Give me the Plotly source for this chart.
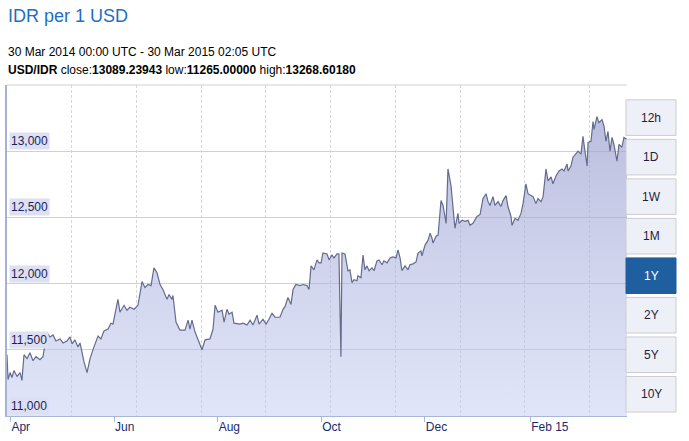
import plotly.graph_objects as go
import pandas as pd

# ---- data ----
start_date = "2014-03-30"
day_offsets = [0, 0.6, 1.8, 2.9, 4.1, 5.9, 7.7, 8.8, 10.0, 11.8, 13.5, 15.3, 17.1, 19.4, 21.2, 23.5, 25.3, 27.1,
               28.8, 31.2, 33.0, 35.3, 37.1, 38.3, 40.0, 41.8, 43.0, 45.3, 47.1, 48.9, 51.2, 53.6, 55.3, 57.1,
               59.5, 61.2, 62.4, 64.2, 65.3, 66.5, 67.7, 68.9, 70.6, 72.4, 74.8, 77.1, 79.5, 81.2, 83.0, 84.8,
               86.5, 88.3, 90.1, 91.8, 94.2, 95.4, 97.1, 97.7, 99.5, 101.8, 104.8, 106.6, 107.7, 108.9, 110.7,
               112.4, 114.8, 116.6, 119.5, 121.3, 122.5, 124.2, 126.6, 127.8, 129.5, 130.7, 132.5, 133.6, 137.2,
               138.9, 141.3, 143.1, 144.8, 147.2, 148.4, 150.7, 152.5, 154.2, 156.0, 157.8, 160.7, 162.5, 163.7,
               165.4, 167.2, 168.4, 170.1, 172.5, 174.3, 176.6, 177.8, 179.0, 180.7, 182.5, 183.7, 184.9, 186.0,
               188.4, 189.6, 191.3, 192.5, 194.3, 195.4, 196.6, 197.2, 199.0, 200.7, 201.9, 203.1, 204.3, 206.0,
               206.6, 208.4, 209.6, 210.7, 211.9, 213.1, 214.9, 216.1, 217.8, 219.0, 220.8, 221.9, 223.7, 225.5,
               227.2, 229.0, 230.2, 231.4, 232.5, 234.3, 236.1, 237.2, 239.0, 240.8, 242.0, 243.7, 244.3, 246.1,
               247.9, 249.1, 250.2, 250.8, 252.6, 253.8, 255.5, 256.7, 258.5, 259.6, 261.4, 262.6, 263.7, 265.5,
               266.1, 267.9, 269.6, 271.4, 272.6, 274.3, 276.7, 278.5, 280.2, 282.0, 283.2, 284.3, 286.1, 287.3,
               289.1, 290.8, 292.0, 293.8, 294.9, 296.7, 297.3, 299.1, 300.8, 302.6, 303.8, 305.5, 306.7, 309.7,
               311.4, 312.6, 314.4, 315.6, 317.3, 318.5, 320.3, 321.4, 323.2, 325.0, 326.7, 327.9, 329.7, 330.3,
               332.0, 333.2, 335.0, 336.2, 337.9, 339.1, 339.7, 341.5, 342.1, 343.8, 345.0, 345.6, 347.3, 348.5,
               350.3, 351.5, 352.6, 353.8, 355.0, 356.2, 357.3, 359.1, 360.3, 362.0, 363.2, 365.0]
rates = [11463, 11276, 11328, 11291, 11343, 11299, 11328, 11269, 11463, 11433, 11478, 11418, 11448, 11425, 11448,
         11634, 11597, 11612, 11567, 11582, 11552, 11567, 11597, 11545, 11575, 11522, 11552, 11410, 11328, 11433,
         11522, 11604, 11582, 11642, 11657, 11701, 11694, 11821, 11881, 11784, 11806, 11836, 11799, 11821, 11806,
         11836, 12015, 11970, 11993, 11985, 12119, 12082, 11993, 11955, 11881, 11918, 11881, 11910, 11709, 11649,
         11649, 11724, 11657, 11724, 11634, 11575, 11500, 11575, 11582, 11657, 11836, 11784, 11799, 11709, 11806,
         11769, 11784, 11701, 11694, 11701, 11687, 11724, 11687, 11761, 11694, 11731, 11694, 11731, 11776, 11746,
         11746, 11806, 11828, 11896, 11843, 11955, 11993, 11985, 11993, 11985, 11955, 12134, 12104, 12179, 12157,
         12157, 12231, 12224, 12179, 12216, 12194, 12224, 12224, 11448, 12231, 12224, 12097, 12104, 12007, 12030,
         12022, 12060, 12045, 12216, 12104, 12134, 12097, 12119, 12097, 12172, 12179, 12142, 12172, 12157, 12194,
         12201, 12194, 12254, 12194, 12097, 12134, 12104, 12142, 12149, 12164, 12231, 12246, 12209, 12291, 12328,
         12381, 12343, 12306, 12358, 12366, 12627, 12590, 12455, 12866, 12739, 12545, 12418, 12530, 12455, 12478,
         12470, 12478, 12440, 12455, 12507, 12522, 12642, 12679, 12619, 12590, 12657, 12590, 12619, 12582, 12627,
         12664, 12582, 12507, 12440, 12493, 12478, 12530, 12604, 12754, 12679, 12657, 12604, 12642, 12619, 12657,
         12866, 12776, 12806, 12754, 12813, 12851, 12866, 12851, 12903, 12851, 12888, 12955, 12978, 13000, 12978,
         13112, 13052, 12888, 13067, 13075, 13224, 13164, 13261, 13216, 13239, 13187, 13075, 13149, 13000, 13104,
         13052, 12925, 13052, 13030, 13104, 13089]

x_tick_dates = ["2014-04-01", "2014-06-01", "2014-08-01", "2014-10-01", "2014-12-01", "2015-02-01"]
x_tick_labels = ["Apr", "Jun", "Aug", "Oct", "Dec", "Feb 15"]
y_ticks = [11000, 11500, 12000, 12500, 13000]
y_tick_labels = ["11,000", "11,500", "12,000", "12,500", "13,000"]
range_buttons = ["12h", "1D", "1W", "1M", "1Y", "2Y", "5Y", "10Y"]
active_button = "1Y"

title_text = "IDR per 1 USD"
period_text = "30 Mar 2014 00:00 UTC - 30 Mar 2015 02:05 UTC"
stats_text = ("<b>USD/IDR</b> close:<b>13089.23943</b> low:<b>11265.00000</b> "
              "high:<b>13268.60180</b>")

dates = pd.Timestamp(start_date) + pd.to_timedelta(day_offsets, unit="D")

FONT = "Arial, Liberation Sans, sans-serif"

fig = go.Figure()
fig.add_trace(go.Scatter(
    x=dates, y=rates, mode="lines",
    line=dict(color="#656b90", width=1.2),
    fill="tozeroy",
    fillgradient=dict(type="vertical",
                      colorscale=[[0, "rgba(196,204,242,0.5)"], [1, "rgba(150,156,204,0.66)"]],
                      start=11000, stop=13300),
    hoverinfo="x+y", showlegend=False,
))

W, H = 689, 441
L, R, T, B = 7, 62, 85, 21
plot_w = W - L - R
plot_h = H - T - B

annotations = []
for v, t in zip(y_ticks, y_tick_labels):
    annotations.append(dict(x=0, xref="paper", y=v, yref="y", text=t, showarrow=False,
                            xanchor="left", yanchor="bottom", xshift=2, yshift=1,
                            font=dict(family=FONT, size=12, color="#1c1f5a"),
                            bgcolor="#dde0f2", borderpad=1))

annotations.append(dict(x=0, xref="paper", y=1, yref="paper", text=title_text, showarrow=False,
                        xanchor="left", yanchor="middle", yshift=(T - 16), xshift=-1,
                        font=dict(family=FONT, size=18, color="#1d6fc5")))
annotations.append(dict(x=0, xref="paper", y=1, yref="paper", text=period_text, showarrow=False,
                        xanchor="left", yanchor="middle", yshift=(T - 52), xshift=-1,
                        font=dict(family=FONT, size=12, color="#000000")))
annotations.append(dict(x=0, xref="paper", y=1, yref="paper", text=stats_text, showarrow=False,
                        xanchor="left", yanchor="middle", yshift=(T - 70), xshift=-1,
                        font=dict(family=FONT, size=12, color="#000000")))

# top border of the plot area
shapes = [dict(type="line", xref="paper", yref="paper", x0=0, x1=1, y0=1, y1=1,
               line=dict(color="#cfd2cf", width=1), layer="below")]
bx0 = (626 - L) / plot_w
bx1 = (676 - L) / plot_w
for k, lab in enumerate(range_buttons):
    top = 100 + 40 * k
    bot = top + 36
    y1 = (H - B - top) / plot_h
    y0 = (H - B - bot) / plot_h
    active = lab == active_button
    shapes.append(dict(type="rect", xref="paper", yref="paper", x0=bx0, x1=bx1, y0=y0, y1=y1,
                       fillcolor="#1f5e9f" if active else "#eef0f8",
                       line=dict(color="#1f5e9f" if active else "#cbcbd3", width=1), layer="above"))
    annotations.append(dict(x=(bx0 + bx1) / 2, y=(y0 + y1) / 2, xref="paper", yref="paper",
                            text=lab, showarrow=False, xanchor="center", yanchor="middle",
                            font=dict(family=FONT, size=12, color="#ffffff" if active else "#1e1e3c")))

grid_days = 38.1
fig.update_layout(
    width=W, height=H,
    margin=dict(l=L, r=R, t=T, b=B, pad=0),
    paper_bgcolor="white", plot_bgcolor="white",
    showlegend=False,
    xaxis=dict(
        type="date", range=["2014-03-30", "2015-03-30"],
        tickvals=x_tick_dates, ticktext=x_tick_labels,
        ticks="outside", ticklen=5, tickcolor="#a8b6d8", tickwidth=1,
        ticklabelposition="outside right",
        tickfont=dict(family=FONT, size=12, color="#172a6e"),
        showgrid=False, zeroline=False,
        showline=True, linecolor="#a8b6d8", linewidth=1,
        mirror=False,
        minor=dict(tick0="2014-03-30", dtick=grid_days * 86400000, showgrid=True,
                   gridcolor="#d6d6d6", griddash="3px,2px", gridwidth=1, ticks=""),
        fixedrange=True,
    ),
    yaxis=dict(
        range=[11000, 13500], dtick=500, tick0=11000,
        showgrid=True, gridcolor="#cfd2cf", gridwidth=1,
        showticklabels=False, ticks="", zeroline=False,
        showline=True, linecolor="#a4b2d6", linewidth=2,
        fixedrange=True,
    ),
    annotations=annotations,
    shapes=shapes,
)

fig.write_html("out.html", config={"displayModeBar": False},
               post_script="document.body.style.margin='0px';document.body.style.padding='0px';")
